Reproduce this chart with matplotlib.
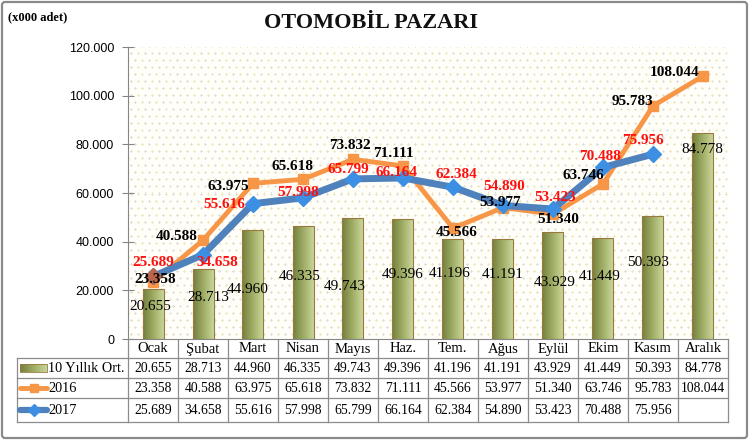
import numpy as np
import matplotlib
matplotlib.use("Agg")
import matplotlib.pyplot as plt
from matplotlib.patches import Rectangle, FancyBboxPatch
from matplotlib.colors import LinearSegmentedColormap

# ---------------- data ----------------
months = ['Ocak', 'Şubat', 'Mart', 'Nisan', 'Mayıs', 'Haz.', 'Tem.', 'Ağus',
          'Eylül', 'Ekim', 'Kasım', 'Aralık']
avg10 = [20655, 28713, 44960, 46335, 49743, 49396, 41196, 41191, 43929, 41449, 50393, 84778]
s2016 = [23358, 40588, 63975, 65618, 73832, 71111, 45566, 53977, 51340, 63746, 95783, 108044]
s2017 = [25689, 34658, 55616, 57998, 65799, 66164, 62384, 54890, 53423, 70488, 75956, None]
series_names = ['10 Yıllık Ort.', '2016', '2017']
yticks = [0, 20000, 40000, 60000, 80000, 100000, 120000]

# label offsets in pixels (dx, dy up)
off_avg = [(-3, -18), (5, -28), (-5, -60), (-3, -50), (-8, -69), (0, -56), (-3, -35),
           (0, -36), (2, -50), (-3, -38), (-5, -46), (-1, -17)]
off_16 = [(2, 3), (-26, 4), (-25, -3), (-10, 13), (-3, 14), (-10, 12), (4, -4),
          (-3, 5), (5, -5), (-20, 8), (-21, 4), (-28, 4)]
off_17 = [(0, 14), (14, -8), (-29, -1), (-5, 5), (-5, 9), (-6, 6), (3, 13),
          (1, 19), (2, 12), (-3, 11), (-10, 14)]


def fmt(v):
    return f"{v:,.0f}".replace(",", ".")


W, H = 749, 440
fig = plt.figure(figsize=(W / 100, H / 100), dpi=100)
fig.patch.set_facecolor('white')

SERIF = ['Liberation Serif', 'DejaVu Serif']
SANS = ['Liberation Sans', 'DejaVu Sans']

# plot area in pixels
PL, PR, PT, PB = 128, 728, 47, 339
ax = fig.add_axes([PL / W, 1 - PB / H, (PR - PL) / W, (PB - PT) / H])
n = len(months)
x = np.arange(n)
ax.set_facecolor('white')

# dotted texture for plot area background
pw, ph = PR - PL, PB - PT
tex = np.ones((ph, pw, 3))
tex[:] = np.array([255, 254, 248]) / 255
c_y = np.array([238, 233, 196]) / 255
c_g = np.array([225, 225, 218]) / 255
sp = 7
for r in range(0, ph, sp):
    shift = (r // sp) % 2 * (sp // 2)
    for c in range(shift, pw, sp):
        col = c_y if ((r // sp + c // sp) % 2 == 0) else c_g
        for dr, dc in [(0, 0), (-1, 0), (1, 0), (0, -1), (0, 1)]:
            rr, cc = r + dr, c + dc
            if 0 <= rr < ph and 0 <= cc < pw:
                tex[rr, cc] = col
ax.imshow(tex, extent=[0, 1, 0, 1], transform=ax.transAxes, aspect='auto',
          interpolation='nearest', zorder=0)

# bars with gradient
cmap = LinearSegmentedColormap.from_list('olive', ['#73803f', '#9eac64', '#c9d69a'])
bars = ax.bar(x, avg10, width=0.42, color='none', edgecolor='#9a7a3c', lw=0.8, zorder=2)
grad = np.linspace(0, 1, 64).reshape(1, -1)
for b in bars:
    x0, y0 = b.get_x(), b.get_y()
    im = ax.imshow(grad, extent=[x0, x0 + b.get_width(), y0, y0 + b.get_height()],
                   aspect='auto', cmap=cmap, zorder=1.9, interpolation='bilinear')
    im.set_clip_path(b)
ax.set_xlim(-0.5, n - 0.5)
ax.set_ylim(0, 120000)

# lines
ORANGE = '#f79646'
BLUE = '#4f81bd'
ax.plot(x, s2016, color=ORANGE, lw=3.5, marker='s', ms=7, mfc=ORANGE, mec=ORANGE, zorder=3)
x17 = [i for i, v in enumerate(s2017) if v is not None]
v17 = [v for v in s2017 if v is not None]
ax.plot(x17, v17, color=BLUE, lw=5, marker='D', ms=8, mfc='#3d8fe3', mec='#3d8fe3', zorder=4)
ax.plot([x17[0]], [v17[0]], marker='D', ms=8, color='#b8654a', ls='none', zorder=4.5)

# data labels
for i, v in enumerate(avg10):
    dx, dy = off_avg[i]
    ax.annotate(fmt(v), (x[i], v), xytext=(dx, dy), textcoords='offset pixels',
                ha='center', va='center', fontsize=11, family=SERIF, color='black', zorder=6)
for i, v in enumerate(s2016):
    dx, dy = off_16[i]
    ax.annotate(fmt(v), (x[i], v), xytext=(dx, dy), textcoords='offset pixels',
                ha='center', va='center', fontsize=11, family=SERIF, weight='bold',
                color='black', zorder=6)
for i, v in zip(x17, v17):
    dx, dy = off_17[i]
    ax.annotate(fmt(v), (i, v), xytext=(dx, dy), textcoords='offset pixels',
                ha='center', va='center', fontsize=11, family=SERIF, weight='bold',
                color='#ff1010', zorder=6)

# axes styling
ax.set_yticks(yticks)
ax.set_yticklabels([fmt(t) for t in yticks], family=SANS, fontsize=9)
ax.tick_params(axis='y', direction='inout', length=8, width=0.8, color='#868686', pad=6)
ax.set_xticks([])
for s in ['top', 'right']:
    ax.spines[s].set_visible(False)
for s in ['left', 'bottom']:
    ax.spines[s].set_color('#868686')
    ax.spines[s].set_linewidth(0.8)

# overlay axes in pixel coordinates for table, title etc.
ov = fig.add_axes([0, 0, 1, 1], zorder=5)
ov.axis('off')
ov.patch.set_alpha(0)

# outer border
ov.add_patch(FancyBboxPatch((2, 2), W - 4, H - 4, boxstyle='round,pad=0,rounding_size=3',
                            fill=False, edgecolor='#8a8a8a', lw=1.6))

ov.text(371, 23, 'OTOMOBİL PAZARI', ha='center', va='center', fontsize=16,
        family=SERIF, weight='bold', color='#111111')
ov.text(8, 17, '(x000 adet)', ha='left', va='center', fontsize=9,
        family=SERIF, weight='bold', color='black')

# table
GC = '#8c8c8c'
TL = 17
rows_y = [339, 358, 378, 398, 422]
colw = (PR - PL) / n
for yy in rows_y[1:]:
    ov.plot([TL, PR], [yy, yy], color=GC, lw=0.9)
ov.plot([TL, TL], [rows_y[1], rows_y[-1]], color=GC, lw=0.9)
for k in range(n + 1):
    xx = PL + k * colw
    ov.plot([xx, xx], [rows_y[0], rows_y[-1]], color=GC, lw=0.9)

tsize = 9.8
for k, m in enumerate(months):
    cx = PL + (k + 0.5) * colw
    ov.text(cx, (rows_y[0] + rows_y[1]) / 2 + 0.5, m, ha='center', va='center',
            fontsize=10.5, family=SERIF)
    vals = [avg10[k], s2016[k], s2017[k]]
    for r, v in enumerate(vals):
        if v is None:
            continue
        ov.text(cx, (rows_y[r + 1] + rows_y[r + 2]) / 2 + 0.5, fmt(v), ha='center',
                va='center', fontsize=tsize, family=SERIF)

# legend keys & names
for r, name in enumerate(series_names):
    cy = (rows_y[r + 1] + rows_y[r + 2]) / 2
    ov.text(48, cy + 0.5, name, ha='left', va='center', fontsize=10.3, family=SERIF)
kx0, kx1 = 20, 47
cy0 = (rows_y[1] + rows_y[2]) / 2
ov.imshow(grad, extent=[kx0, kx1, cy0 + 4, cy0 - 4], aspect='auto', cmap=cmap,
          interpolation='bilinear', zorder=3)
ov.add_patch(Rectangle((kx0, cy0 - 4), kx1 - kx0, 8, fill=False, edgecolor='#9a7a3c',
                       lw=0.6, zorder=4))
cy1 = (rows_y[2] + rows_y[3]) / 2
ov.plot([kx0, kx1], [cy1, cy1], color=ORANGE, lw=3.5, solid_capstyle='round')
ov.plot([(kx0 + kx1) / 2], [cy1], marker='s', ms=6, color=ORANGE)
cy2 = (rows_y[3] + rows_y[4]) / 2
ov.plot([kx0, kx1], [cy2, cy2], color=BLUE, lw=4.5, solid_capstyle='round')
ov.plot([(kx0 + kx1) / 2], [cy2], marker='D', ms=6, color='#3d8fe3')
ov.set_xlim(0, W)
ov.set_ylim(H, 0)

fig.savefig('out.png', dpi=100)
